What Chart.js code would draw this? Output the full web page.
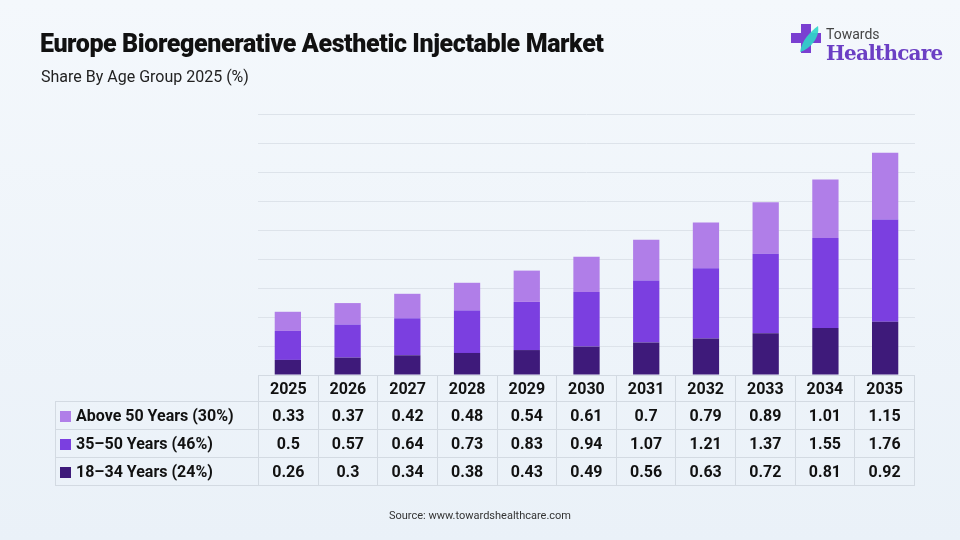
<!DOCTYPE html>
<html>
<head>
<meta charset="utf-8">
<script src="https://cdn.jsdelivr.net/npm/chart.js@4"></script>
<style>
  body { margin: 0; width: 960px; height: 540px; overflow: hidden; font-family: Roboto, "Open Sans", sans-serif;
         background: linear-gradient(180deg, #f4f8fc 0%, #eaf1f8 100%); position: relative; }
  #wrap { position: absolute; left: 0; top: 0; width: 960px; height: 540px; }
  h1 { position: absolute; left: 40px; top: 29px; margin: 0; font-size: 25px; font-weight: 900; letter-spacing: -0.4px; color: #111; }
  .sub { position: absolute; left: 41px; top: 67px; font-size: 16px; color: #222; }
  .src { position: absolute; left: 0; width: 960px; top: 509px; text-align: center; font-size: 11px; color: #333; }
  table { position: absolute; left: 55px; top: 375px; border-collapse: collapse; font-weight: bold; font-size: 16px; color: #111; table-layout: fixed; width: 860px; }
  td { border: 1px solid #d3dae2; height: 28px; text-align: center; padding: 0; box-sizing: border-box; }
  tr:first-child td { height: 26px; }
  td.lab { width: 203px; text-align: left; padding-left: 4px; white-space: nowrap; }
  tr:first-child td.lab { border: none; }
  .sw { display: inline-block; width: 11px; height: 11px; margin-right: 5px; vertical-align: -1px; }
  .logo { position: absolute; left: 790px; top: 22px; }
  .logo .t1 { position: absolute; left: 36px; top: 4px; font-size: 14px; color: #444; }
  .logo .t2 { position: absolute; left: 36px; top: 19px; font-size: 20px; font-weight: bold; color: #6b3fc4; font-family: "DejaVu Serif", serif; letter-spacing: -0.8px; }
</style>
</head>
<body>
<div id="wrap"><canvas id="c" width="960" height="540"></canvas></div>
<h1>Europe Bioregenerative Aesthetic Injectable Market</h1>
<div class="sub">Share By Age Group 2025 (%)</div>
<div class="logo">
  <svg width="34" height="34" viewBox="0 0 34 34"><path d="M11 2h10v9h10v10H21v10H11V21H1V11h10z" fill="#7a3fd1"/><path d="M10 30c2-12 10-20 18-26c2 10-6 22-18 26z" fill="#2fd6c8" opacity="0.9"/></svg>
  <span class="t1">Towards</span><span class="t2">Healthcare</span>
</div>
<table id="tbl"></table>
<div class="src">Source: www.towardshealthcare.com</div>
<script>
const years = ['2025','2026','2027','2028','2029','2030','2031','2032','2033','2034','2035'];
const above50 = [0.33,0.37,0.42,0.48,0.54,0.61,0.7,0.79,0.89,1.01,1.15];
const mid3550 = [0.5,0.57,0.64,0.73,0.83,0.94,1.07,1.21,1.37,1.55,1.76];
const young1834 = [0.26,0.3,0.34,0.38,0.43,0.49,0.56,0.63,0.72,0.81,0.92];
const labels = ['Above 50 Years (30%)','35–50 Years (46%)','18–34 Years (24%)'];
const colors = ['#b07ee8','#7b3fe0','#3e1a7a'];

new Chart(document.getElementById('c'), {
  type: 'bar',
  data: {
    labels: years,
    datasets: [
      { label: labels[2], data: young1834, backgroundColor: colors[2] },
      { label: labels[1], data: mid3550, backgroundColor: colors[1] },
      { label: labels[0], data: above50, backgroundColor: colors[0] }
    ]
  },
  options: {
    responsive: false, animation: false,
    layout: { padding: { left: 258, right: 45, top: 114, bottom: 157 } },
    plugins: { legend: { display: false }, tooltip: { enabled: false } },
    datasets: { bar: { barPercentage: 0.44, categoryPercentage: 1 } },
    scales: {
      x: { stacked: true, ticks: { display: false, padding: 0 }, grid: { display: false }, border: { display: false } },
      y: { stacked: true, min: 0, max: 4.5, ticks: { display: false, stepSize: 0.5 },
           grid: { color: '#dde3ea', drawTicks: false }, border: { display: false } }
    }
  }
});

const tbl = document.getElementById('tbl');
let html = '<tr><td class="lab"></td>' + years.map(y => '<td>' + y + '</td>').join('') + '</tr>';
[above50, mid3550, young1834].forEach((row, i) => {
  html += '<tr><td class="lab"><span class="sw" style="background:' + colors[i] + '"></span>' + labels[i] + '</td>' +
    row.map(v => '<td>' + v + '</td>').join('') + '</tr>';
});
tbl.innerHTML = html;
</script>
</body>
</html>
